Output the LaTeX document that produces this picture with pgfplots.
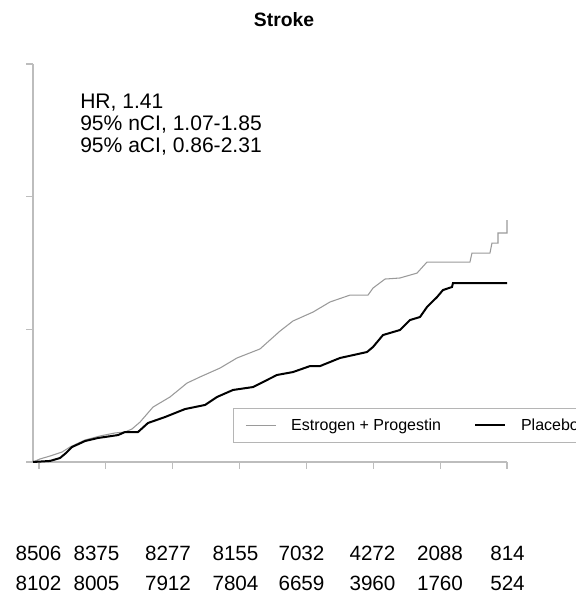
\documentclass[border=0pt]{standalone}
\usepackage{pgfplots}
\pgfplotsset{compat=1.18}
\usepackage{fontspec}
\setmainfont{Liberation Sans}
\definecolor{axgray}{HTML}{BDBDBD}
\definecolor{estgray}{HTML}{9A9A9A}
\definecolor{leggray}{HTML}{B5B5B5}
\begin{document}
\begin{tikzpicture}
\path[use as bounding box] (-24.75pt,-105.75pt) rectangle (406.5pt,346.5pt);
\begin{axis}[
  at={(0pt,0pt)}, anchor=south west,
  scale only axis, width=355.5pt, height=298.5pt,
  xmin=-0.09, xmax=7, ymin=0, ymax=3,
  axis x line=bottom, axis y line=left,
  axis line style={-, draw=axgray, line width=0.9pt},
  xtick={0,1,2,3,4,5,6,7}, ytick={0,1,2,3},
  xticklabels={}, yticklabels={},
  tick align=outside, major tick length=5pt,
  tick style={draw=axgray, line width=0.9pt},
  clip=false,
  legend columns=2,
  legend image code/.code={\draw[#1] (0pt,0pt) -- (22.5pt,0pt);},
  legend style={at={(axis cs:2.9,0.407)}, anchor=north west,
    draw=leggray, line width=0.8pt, inner xsep=9pt, inner ysep=4.5pt,
    font=\fontsize{12}{14}\selectfont,
    nodes={inner sep=3pt},
    /tikz/every odd column/.append style={column sep=8pt},
    /tikz/every even column/.append style={column sep=22pt}},
]
\addplot[estgray, line width=0.8pt] coordinates {
(-0.09,0) (0.015,0.023) (0.165,0.045) (0.344,0.075) (0.464,0.113)
(0.688,0.166) (0.912,0.196) (1.137,0.219) (1.286,0.226) (1.391,0.249)
(1.511,0.301) (1.705,0.414) (1.959,0.490) (2.214,0.595) (2.408,0.641)
(2.707,0.708) (2.961,0.784) (3.305,0.852) (3.605,0.987) (3.799,1.063)
(4.098,1.130) (4.352,1.206) (4.651,1.258) (4.921,1.258) (4.996,1.311)
(5.175,1.379) (5.399,1.387) (5.654,1.424) (5.803,1.507) (6.446,1.507)
(6.476,1.575) (6.745,1.575) (6.775,1.650) (6.865,1.650) (6.865,1.726)
(7.0,1.726) (7.0,1.824)
};
\addlegendentry{Estrogen + Progestin}
\addplot[black, line width=1.5pt] coordinates {
(-0.09,0) (0.165,0.008) (0.314,0.030) (0.404,0.068) (0.494,0.113)
(0.688,0.158) (0.882,0.181) (1.182,0.203) (1.286,0.226) (1.481,0.226)
(1.630,0.294) (1.885,0.339) (2.184,0.399) (2.483,0.430) (2.662,0.490)
(2.902,0.543) (3.201,0.565) (3.560,0.656) (3.799,0.678) (4.053,0.723)
(4.203,0.723) (4.502,0.784) (4.906,0.829) (4.996,0.867) (5.145,0.957)
(5.399,0.995) (5.549,1.070) (5.699,1.093) (5.803,1.168) (5.953,1.243)
(6.042,1.296) (6.177,1.319) (6.192,1.349) (7.0,1.349)
};
\addlegendentry{Placebo}
\end{axis}
\node[anchor=base, inner sep=0pt, font=\fontsize{14.5}{16}\selectfont\bfseries] at (188.25pt,326.25pt) {Stroke};
\begin{scope}[every node/.style={anchor=base west, inner sep=0pt, font=\fontsize{15.8}{18}\selectfont}]
\node at (35.25pt,264.75pt) {HR, 1.41};
\node at (35.25pt,248.25pt) {95\% nCI, 1.07-1.85};
\node at (35.25pt,231.75pt) {95\% aCI, 0.86-2.31};
\end{scope}
\begin{scope}[every node/.style={anchor=base, inner sep=0pt, font=\fontsize{15.5}{18}\selectfont}]
\foreach \x/\a/\b in {4.125/8506/8102, 47.625/8375/8005, 101.25/8277/7912, 151.875/8155/7804, 201.375/7032/6659, 254.625/4272/3960, 305.25/2088/1760, 355.875/814/524} {
  \node at (\x pt,-73.5pt) {\a};
  \node at (\x pt,-96pt) {\b};
}
\end{scope}
\end{tikzpicture}
\end{document}
